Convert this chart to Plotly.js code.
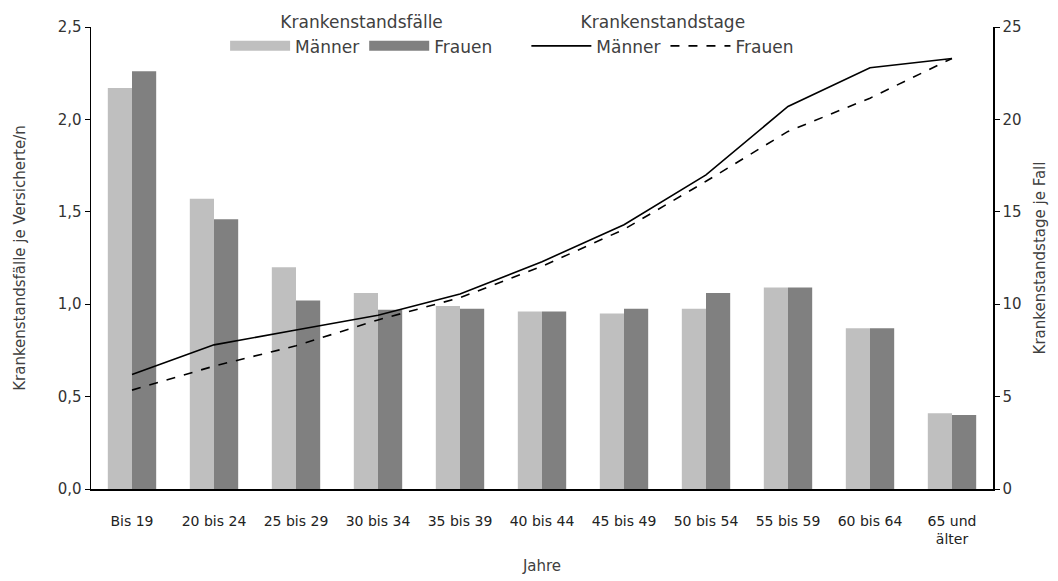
<!DOCTYPE html>
<html>
<head>
<meta charset="utf-8">
<script src="https://cdn.plot.ly/plotly-3.0.1.min.js"></script>
<style>html,body{margin:0;padding:0;background:#fff;}#chart{width:1058px;height:581px;}</style>
</head>
<body>
<div id="chart"></div>
<script>
const categories = ["Bis 19","20 bis 24","25 bis 29","30 bis 34","35 bis 39","40 bis 44","45 bis 49","50 bis 54","55 bis 59","60 bis 64","65 und<br>älter"];
const faelleMaenner = [2.17,1.57,1.20,1.06,0.99,0.96,0.95,0.975,1.09,0.87,0.41];
const faelleFrauen  = [2.26,1.46,1.02,0.97,0.975,0.96,0.975,1.06,1.09,0.87,0.40];
const tageMaenner = [6.2,7.8,8.6,9.4,10.55,12.3,14.3,17.0,20.7,22.8,23.3];
const tageFrauen  = [5.35,6.65,7.75,9.15,10.35,12.05,14.05,16.65,19.35,21.15,23.3];
const leftTicks = [0,0.5,1,1.5,2,2.5];
const rightTicks = [0,5,10,15,20,25];
const colMaenner = "#bfbfbf";
const colFrauen = "#808080";

const fontFam = "DejaVu Sans, sans-serif";
const txtCol = "#404040";

const traces = [
  {type:"bar", name:"Männer", x:categories, y:faelleMaenner, marker:{color:colMaenner}, showlegend:false},
  {type:"bar", name:"Frauen", x:categories, y:faelleFrauen, marker:{color:colFrauen}, showlegend:false},
  // legend-only entries for the bar series (wide swatches)
  {type:"scatter", mode:"lines", name:"Männer", x:[null], y:[null], line:{color:colMaenner, width:12}, legend:"legend", hoverinfo:"skip"},
  {type:"scatter", mode:"lines", name:"Frauen", x:[null], y:[null], line:{color:colFrauen, width:12}, legend:"legend", hoverinfo:"skip"},
  {type:"scatter", mode:"lines", name:"Männer", x:categories, y:tageMaenner, yaxis:"y2", line:{color:"#000", width:1.6}, legend:"legend2"},
  {type:"scatter", mode:"lines", name:"Frauen", x:categories, y:tageFrauen, yaxis:"y2", line:{color:"#000", width:1.6, dash:"dash"}, legend:"legend2"}
];

const layout = {
  width:1058, height:581,
  margin:{l:91, r:65, t:27, b:92, autoexpand:false},
  paper_bgcolor:"#fff", plot_bgcolor:"#fff",
  separators:", ",
  font:{family:fontFam, size:14, color:txtCol},
  barmode:"group", bargap:0.41, bargroupgap:0,
  showlegend:true,
  xaxis:{
    showline:true, linecolor:"#000", linewidth:2, ticks:"", showgrid:false,
    ticklabelstandoff:18,
    title:{text:"Jahre", standoff:14, font:{size:15, color:txtCol}},
    tickfont:{size:14, color:"#222"}
  },
  yaxis:{
    range:[0,2.5], tickvals:leftTicks, tickformat:".1f",
    showline:true, linecolor:"#000", linewidth:1.5, ticks:"outside", ticklen:5, tickcolor:"#000",
    showgrid:false, zeroline:false,
    title:{text:"Krankenstandsfälle je Versicherte/n", standoff:28, font:{size:15, color:txtCol}},
    tickfont:{size:15, color:"#333"}
  },
  yaxis2:{
    overlaying:"y", side:"right", range:[0,25], tickvals:rightTicks,
    showline:true, linecolor:"#000", linewidth:1.5, ticks:"outside", ticklen:5, tickcolor:"#000",
    showgrid:false, zeroline:false,
    title:{text:"Krankenstandstage je Fall", standoff:14, font:{size:15, color:txtCol}},
    tickfont:{size:15, color:"#333"}
  },
  legend:{
    orientation:"h", x:0.300, xanchor:"center", y:1.045, yanchor:"top",
    bgcolor:"rgba(0,0,0,0)", itemwidth:60,
    title:{text:"Krankenstandsfälle", side:"top center", font:{size:17, color:txtCol}},
    font:{size:17, color:txtCol}
  },
  legend2:{
    orientation:"h", x:0.634, xanchor:"center", y:1.045, yanchor:"top",
    bgcolor:"rgba(0,0,0,0)", itemwidth:60,
    title:{text:"Krankenstandstage", side:"top center", font:{size:17, color:txtCol}},
    font:{size:17, color:txtCol}
  }
};

Plotly.newPlot("chart", traces, layout, {displayModeBar:false, staticPlot:true});
</script>
</body>
</html>
